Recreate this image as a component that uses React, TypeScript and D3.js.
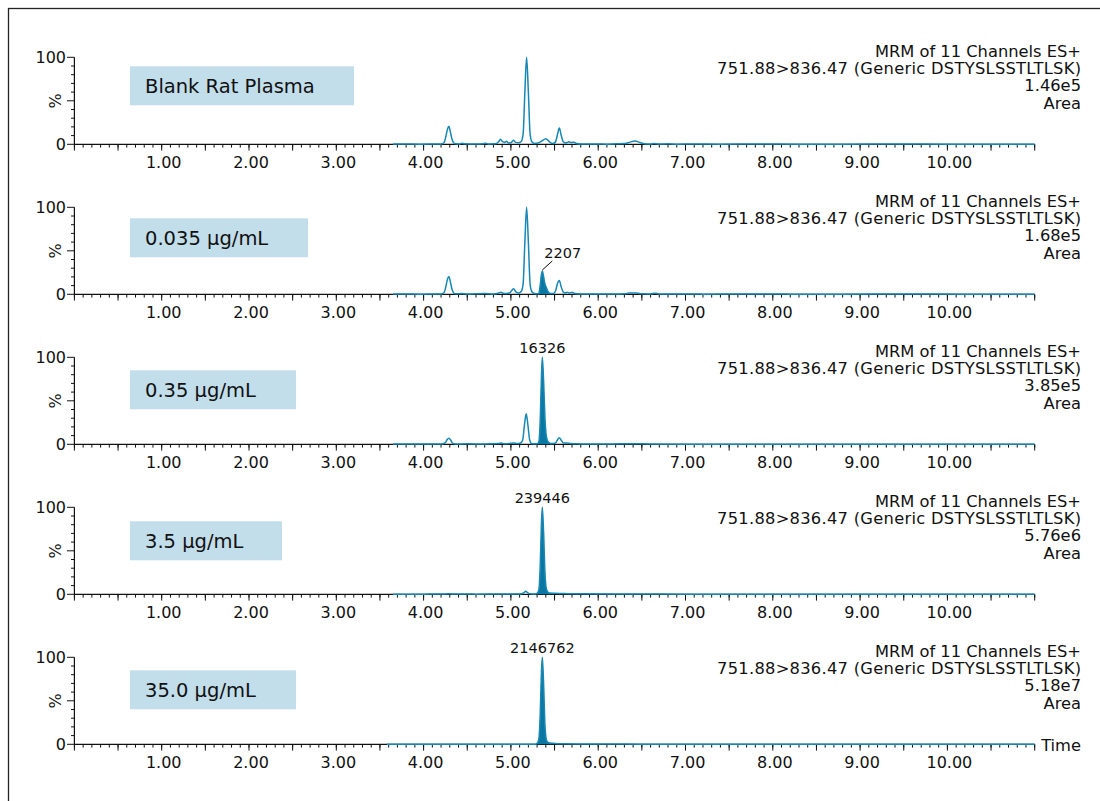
import React from "react";
import * as d3 from "d3";

type Pt = [number, number];

// ---------- data ----------
const sampleNames = ["Blank Rat Plasma", "0.035 µg/mL", "0.35 µg/mL", "3.5 µg/mL", "35.0 µg/mL"];
const headerLine1 = "MRM of 11 Channels ES+";
const headerLine2 = "751.88>836.47 (Generic DSTYSLSSTLTLSK)";
const intensityLabels = ["1.46e5", "1.68e5", "3.85e5", "5.76e6", "5.18e7"];
const peakAreaLabels: (string | null)[] = [null, "2207", "16326", "239446", "2146762"];
const peakApex: (Pt | null)[] = [null, [5.36, 26.8], [5.36, 100], [5.36, 100], [5.36, 100]];
const integrationWindows: ([number, number] | null)[] = [null, [5.32, 5.46], [5.3, 5.47], [5.3, 5.5], [5.3, 5.5]];
const xTickValues = [1, 2, 3, 4, 5, 6, 7, 8, 9, 10];
const xTickLabels = ["1.00", "2.00", "3.00", "4.00", "5.00", "6.00", "7.00", "8.00", "9.00", "10.00"];
const yTickValues = [0, 100];
const yTickLabels = ["0", "100"];

const blankTrace: Pt[] = [
  [3.65, 0.2], [3.8, 0.3], [3.95, 0.2], [4.1, 0.3], [4.2, 0.4], [4.235, 2], [4.255, 9], [4.275, 18], [4.29, 20.7],
  [4.305, 15], [4.325, 6], [4.345, 1.5], [4.37, 0.5], [4.41, 0.4], [4.44, 1.2], [4.47, 0.5], [4.6, 0.3], [4.68, 0.5],
  [4.71, 1.2], [4.74, 0.4], [4.82, 0.5], [4.86, 3], [4.88, 5.7], [4.905, 3], [4.925, 2.2], [4.95, 3.5], [4.97, 1.5],
  [5.0, 1.8], [5.03, 4.6], [5.055, 2.2], [5.09, 1.8], [5.12, 3.5], [5.14, 12], [5.16, 60], [5.18, 100], [5.2, 60],
  [5.22, 12], [5.24, 3], [5.27, 1], [5.31, 1.5], [5.35, 3.5], [5.4, 6.5], [5.44, 3], [5.48, 1], [5.51, 2.5],
  [5.535, 12], [5.555, 18.7], [5.575, 11], [5.6, 3], [5.63, 1.5], [5.665, 2.8], [5.69, 2], [5.72, 2.5], [5.75, 1],
  [5.8, 0.4], [5.9, 0.3], [6.0, 0.4], [6.1, 0.2], [6.2, 0.5], [6.3, 0.8], [6.35, 2], [6.42, 3.8], [6.48, 2],
  [6.53, 0.6], [6.6, 0.4], [6.64, 1], [6.7, 0.4], [6.8, 0.5], [6.9, 0.2], [7.1, 0.3], [7.4, 0.2], [7.8, 0.3],
  [8.3, 0.2], [8.8, 0.2], [9.4, 0.3], [10.0, 0.2], [10.6, 0.2], [11.0, 0.2],
];

const trace0035: Pt[] = [
  [3.65, 0.2], [3.8, 0.3], [3.95, 0.2], [4.1, 0.3], [4.2, 0.4], [4.235, 2], [4.255, 9], [4.275, 18], [4.29, 20.5],
  [4.305, 15], [4.325, 6], [4.345, 1.5], [4.37, 0.5], [4.44, 0.8], [4.5, 0.4], [4.7, 0.8], [4.8, 0.4], [4.86, 1.5],
  [4.885, 2.5], [4.91, 1.2], [4.95, 1], [4.99, 2], [5.03, 6.5], [5.06, 2.5], [5.09, 1.5], [5.12, 3.5], [5.14, 12],
  [5.16, 60], [5.18, 100], [5.2, 60], [5.22, 12], [5.24, 3], [5.27, 1], [5.3, 0.6], [5.32, 1], [5.335, 10],
  [5.35, 23], [5.36, 26.8], [5.375, 20], [5.39, 12], [5.405, 8], [5.42, 4], [5.44, 1.5], [5.46, 0.8], [5.49, 1],
  [5.515, 5], [5.535, 13], [5.555, 16], [5.575, 9], [5.6, 2.5], [5.625, 1.5], [5.645, 2.5], [5.67, 1.5], [5.7, 2.5],
  [5.73, 1], [5.8, 0.4], [5.9, 0.3], [6.0, 0.4], [6.2, 0.3], [6.3, 0.6], [6.36, 1.5], [6.44, 1.5], [6.5, 0.5],
  [6.6, 0.4], [6.65, 1.2], [6.7, 0.4], [6.9, 0.3], [7.2, 0.2], [7.6, 0.3], [8.2, 0.2], [8.8, 0.2], [9.5, 0.3],
  [10.2, 0.2], [11.0, 0.2],
];

const trace035: Pt[] = [
  [3.65, 0.2], [4.0, 0.3], [4.2, 0.3], [4.25, 2], [4.27, 5.5], [4.29, 7], [4.31, 5], [4.33, 1.5], [4.36, 0.4],
  [4.5, 0.5], [4.7, 0.4], [4.86, 0.8], [4.89, 1.5], [4.92, 0.6], [5.0, 1.2], [5.03, 1.5], [5.07, 0.8], [5.11, 1.5],
  [5.135, 5], [5.155, 22], [5.175, 35], [5.195, 22], [5.215, 5], [5.235, 1], [5.27, 0.5], [5.3, 0.6], [5.32, 3],
  [5.335, 25], [5.35, 78], [5.36, 100], [5.375, 72], [5.39, 30], [5.405, 10], [5.42, 4], [5.44, 1.5], [5.47, 0.8],
  [5.51, 1.5], [5.535, 5.5], [5.555, 7.6], [5.575, 5], [5.6, 1.5], [5.64, 1.5], [5.68, 1], [5.75, 0.5], [5.9, 0.3],
  [6.1, 0.3], [6.4, 0.7], [6.6, 0.3], [7.0, 0.2], [7.5, 0.2], [8.5, 0.2], [9.5, 0.2], [11.0, 0.2],
];

const trace35: Pt[] = [
  [3.65, 0.1], [4.0, 0.2], [4.25, 0.3], [4.29, 0.7], [4.33, 0.3], [4.6, 0.2], [4.9, 0.3], [5.1, 0.3], [5.15, 2],
  [5.17, 3.5], [5.19, 2], [5.22, 0.5], [5.28, 0.3], [5.3, 1], [5.32, 5], [5.335, 30], [5.35, 82], [5.36, 100],
  [5.375, 70], [5.39, 25], [5.405, 7], [5.42, 3], [5.44, 1.5], [5.5, 1.2], [5.6, 0.8], [5.8, 0.5], [6.2, 0.3],
  [7.0, 0.2], [8.0, 0.2], [9.0, 0.2], [11.0, 0.2],
];

const trace350: Pt[] = [
  [3.58, 0.1], [4.5, 0.1], [5.2, 0.1], [5.28, 0.2], [5.3, 1], [5.32, 6], [5.335, 32], [5.35, 84], [5.36, 100],
  [5.375, 68], [5.39, 22], [5.405, 6], [5.42, 2.5], [5.45, 1.5], [5.5, 1], [5.6, 0.5], [5.8, 0.3], [6.5, 0.2],
  [8.0, 0.1], [11.0, 0.1],
];

const traces: Pt[][] = [blankTrace, trace0035, trace035, trace35, trace350];

// ---------- layout ----------
const W = 1100;
const H = 801;
const FONT = "'DejaVu Sans', Verdana, sans-serif";
const LINE = "#1788b4";
const FILL = "#0a77a3";
const BOX = "#c3deeb";
const panelTop0 = 57.3;
const panelStep = 150;
const panelH = 87;
const boxWidths = [224, 178, 166, 152, 166];
const boxOffsets = [9, 11, 13, 14, 13];

const x = d3.scaleLinear().domain([0, 11]).range([74.4, 1034.7]);
const majorX = d3.range(0, 11.0001, 0.5);
const minorX = d3.range(0, 11.0001, 0.1);
const yTicksAll = d3.range(0, 100.001, 10);

function Panel({ i }: { i: number }) {
  const top = panelTop0 + i * panelStep;
  const y = d3.scaleLinear().domain([0, 100]).range([top + panelH, top]);
  const base = y(0);
  const line = d3.line<Pt>().x((d) => x(d[0])).y((d) => y(d[1])).curve(d3.curveMonotoneX);
  const area = d3
    .area<Pt>()
    .x((d) => x(d[0]))
    .y0(base)
    .y1((d) => y(d[1]))
    .curve(d3.curveMonotoneX);
  const win = integrationWindows[i];
  const fillPts = win ? traces[i].filter((d) => d[0] >= win[0] - 1e-9 && d[0] <= win[1] + 1e-9) : [];
  const apex = peakApex[i];
  const label = peakAreaLabels[i];
  const isLast = i === sampleNames.length - 1;
  const boxTop = top + boxOffsets[i];
  const headerTexts = [headerLine1, headerLine2, intensityLabels[i], "Area"];
  return (
    <g>
      {/* label box */}
      <rect x={130} y={boxTop} width={boxWidths[i]} height={39} fill={BOX} />
      <text x={145} y={boxTop + 19.5} dy="0.36em" fontSize={19.5} fill="#111" fontFamily={FONT}>
        {sampleNames[i]}
      </text>
      {/* header text */}
      {headerTexts.map((t, k) => (
        <text
          key={k}
          x={1081}
          y={top - 0.5 + k * 17.3}
          textAnchor="end"
          fontSize={16.3}
          fill="#111"
          fontFamily={FONT}
          {...(k === 1 ? { textLength: 364, lengthAdjust: "spacing" } : {})}
        >
          {t}
        </text>
      ))}
      {/* y axis */}
      <line x1={74.4} x2={74.4} y1={top} y2={base} stroke="#111" strokeWidth={1.2} />
      {yTicksAll.map((v) => (
        <line
          key={v}
          x1={v % 50 === 0 ? 67 : 71}
          x2={74.4}
          y1={y(v)}
          y2={y(v)}
          stroke="#111"
          strokeWidth={1}
        />
      ))}
      {yTickValues.map((v, k) => (
        <text key={v} x={66} y={y(v)} dy="0.36em" textAnchor="end" fontSize={16} fill="#111" fontFamily={FONT}>
          {yTickLabels[k]}
        </text>
      ))}
      <text
        transform={`translate(55.5,${(top + base) / 2}) rotate(-90)`}
        textAnchor="middle"
        dy="0.36em"
        fontSize={16}
        fill="#111"
        fontFamily={FONT}
      >
        %
      </text>
      {/* x axis */}
      <line x1={74.4} x2={1034.7} y1={base} y2={base} stroke="#111" strokeWidth={1.3} />
      {minorX.map((v, k) => (
        <line key={"m" + k} x1={x(v)} x2={x(v)} y1={base} y2={base + 3.3} stroke="#111" strokeWidth={1} />
      ))}
      {majorX.map((v, k) => (
        <line key={"M" + k} x1={x(v)} x2={x(v)} y1={base} y2={base + 6.3} stroke="#111" strokeWidth={1} />
      ))}
      {xTickValues.map((v, k) => (
        <text key={v} x={x(v) + 2} y={base + 23.5} textAnchor="middle" fontSize={16} fill="#111" fontFamily={FONT}>
          {xTickLabels[k]}
        </text>
      ))}
      {isLast && (
        <text x={1081} y={base + 6.5} textAnchor="end" fontSize={16.3} fill="#111" fontFamily={FONT}>
          Time
        </text>
      )}
      {/* trace */}
      {fillPts.length > 1 && <path d={area(fillPts) || ""} fill={FILL} stroke="none" />}
      <path d={line(traces[i]) || ""} fill="none" stroke={LINE} strokeWidth={1.5} strokeLinejoin="round" />
      {/* peak label */}
      {apex && label && i === 1 && (
        <g>
          <line
            x1={x(apex[0])}
            y1={y(apex[1]) - 1}
            x2={x(apex[0]) + 10}
            y2={y(apex[1]) - 10}
            stroke="#111"
            strokeWidth={1}
          />
          <text x={x(apex[0]) + 2} y={y(apex[1]) - 13} fontSize={14.5} fill="#111" fontFamily={FONT}>
            {label}
          </text>
        </g>
      )}
      {apex && label && i !== 1 && (
        <text x={x(apex[0])} y={y(apex[1]) - 4} textAnchor="middle" fontSize={14.5} fill="#111" fontFamily={FONT}>
          {label}
        </text>
      )}
    </g>
  );
}

export default function App() {
  return (
    <svg
      width={W}
      height={H}
      viewBox={`0 0 ${W} ${H}`}
      style={{ position: "absolute", left: 0, top: 0, background: "#fff" }}
    >
      <rect x={0} y={0} width={W} height={H} fill="#fff" />
      <rect x={8.5} y={8.5} width={W + 20} height={H + 20} fill="none" stroke="#222" strokeWidth={1.3} />
      {sampleNames.map((_, i) => (
        <Panel key={i} i={i} />
      ))}
    </svg>
  );
}
